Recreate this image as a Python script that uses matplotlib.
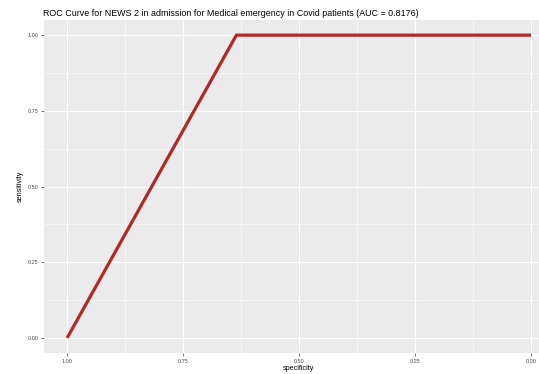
import matplotlib
matplotlib.use("Agg")
import matplotlib.pyplot as plt
from matplotlib.ticker import MultipleLocator

# ROC points for NEWS 2 (one cut-off)
specificity = [1.0, 0.6352, 0.0]
sensitivity = [0.0, 1.0, 1.0]
auc = 0.8176
ticks = [1.00, 0.75, 0.50, 0.25, 0.00]
tick_labels = ["1.00", "0.75", "0.50", "0.25", "0.00"]

plt.rcParams["font.family"] = ["Liberation Sans", "DejaVu Sans"]

fig = plt.figure(figsize=(5.39, 3.74), dpi=100)
ax = fig.add_axes([0.0816, 0.0561, 0.9184, 0.8904])
ax.set_facecolor("#EBEBEB")

ax.plot(specificity, sensitivity, color="#B02828", linewidth=2.3,
        solid_capstyle="butt", solid_joinstyle="miter", zorder=3)

ax.set_xlim(1.05, -0.0172)
ax.set_ylim(-0.05, 1.05)
ax.set_xticks(ticks)
ax.set_xticklabels(tick_labels)
ax.set_yticks(ticks)
ax.set_yticklabels(tick_labels)
ax.xaxis.set_minor_locator(MultipleLocator(0.125))
ax.yaxis.set_minor_locator(MultipleLocator(0.125))

ax.grid(which="major", color="white", linewidth=0.8)
ax.grid(which="minor", color="white", linewidth=0.4)
ax.set_axisbelow(True)
for s in ax.spines.values():
    s.set_visible(False)

ax.tick_params(which="major", length=2, width=0.5, color="#444444",
               labelsize=4, labelcolor="#4D4D4D", pad=2)
ax.tick_params(which="minor", length=0)

ax.set_xlabel("specificity", fontsize=5.2, labelpad=1)
ax.set_ylabel("sensitivity", fontsize=5.2, labelpad=3)
ax.xaxis.set_label_coords(0.515, -0.035)

fig.text(0.08, 0.965, f"ROC Curve for NEWS 2 in admission for Medical emergency in Covid patients (AUC = {auc})",
         fontsize=6.4, ha="left", va="center")

fig.savefig("out.png", dpi=100)
